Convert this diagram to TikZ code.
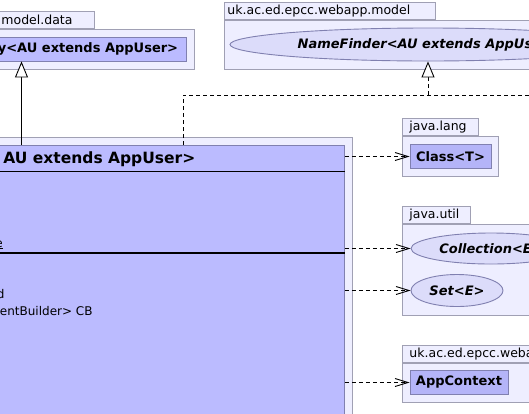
\documentclass[tikz,border=0pt]{standalone}
\usepackage{fontspec}
\setmainfont{DejaVu Sans}
\usetikzlibrary{arrows.meta,calc,shapes.geometric,positioning}
\definecolor{pkgfill}{HTML}{EEEEFF}
\definecolor{pkgline}{HTML}{A0A0B4}
\definecolor{clsfill}{HTML}{B4B4F8}
\definecolor{mainfill}{HTML}{BBBBFF}
\definecolor{clsline}{HTML}{8080B0}
\definecolor{ifcfill}{HTML}{DCDCFA}
\newcommand{\pkgfont}{\fontsize{12.5}{15}\selectfont}
\newcommand{\clsfont}{\bfseries\fontsize{13}{16}\selectfont}
\newcommand{\ifcfont}{\bfseries\itshape\fontsize{13}{16}\selectfont}
\newcommand{\memfont}{\fontsize{12}{15}\selectfont}

\begin{document}
\begin{tikzpicture}[x=1pt, y=-1pt, line width=0.9pt,
  pkgtab/.style={draw=pkgline, fill=pkgfill, anchor=south west, minimum height=17pt, inner ysep=0pt, align=left, font=\pkgfont},
  pkgbody/.style={draw=pkgline, fill=pkgfill, anchor=north west, inner sep=0pt},
  cls/.style={draw=clsline, fill=clsfill, minimum height=23.5pt, inner sep=0pt, font=\clsfont},
  ifc/.style={ellipse, draw=clsline, fill=ifcfill, inner sep=0pt, font=\ifcfont},
  member/.style={inner sep=0pt, font=\memfont},
  dep/.style={dash pattern=on 4pt off 3pt, -{Straight Barb[length=13pt,width=8pt]}},
  real/.style={dash pattern=on 4pt off 3pt},
  hollow/.style={-{Triangle[length=16pt,width=13pt,fill=white]}}]
\useasboundingbox (0,0) rectangle (529,413);
\clip (0,0) rectangle (529,413);
\fill[white] (0,0) rectangle (529,413);

% model.data
\node[pkgtab, inner xsep=6pt, text width=87pt] (datatab) at (-5,29) {model.data};
\node[pkgbody, minimum width=210pt, minimum height=40pt] (datapkg) at (-16,29) {};
\node[cls, fill=mainfill, minimum width=196pt, minimum height=24pt] (dat) at (88,49) {y<AU extends AppUser>};

% webapp.model
\node[pkgtab, inner xsep=3pt, text width=205pt] (modeltab) at (224,20) {uk.ac.ed.epcc.webapp.model};
\node[pkgbody, minimum width=320pt, minimum height=49pt] (modelpkg) at (224,20) {};
\node[ifc, minimum width=396pt, minimum height=33pt] (nf) at (428,44.5) {NameFinder<AU extends AppUser>};

% the big class
\node[pkgbody, minimum width=372pt, minimum height=300pt] (mainpkg) at (-20,137) {};
\node[draw=clsline, fill=mainfill, anchor=north west, minimum width=354pt, minimum height=290pt, inner sep=0pt] (main) at (-10,145) {};
\node[anchor=base west, inner sep=0pt, font=\bfseries\fontsize{15.5}{19}\selectfont] (mainname) at (3,163) {AU extends AppUser>};
\draw ($(main.north west)+(0,26)$) -- ($(main.north east)+(0,26)$);
\draw[line width=2pt] ($(main.north west)+(0,108)$) -- ($(main.north east)+(0,108)$);
\node[member, anchor=base east] (attr) at (3.3,247) {\underline{e}};
\node[member, anchor=base east] (meth) at (5,298) {d};
\node[member, anchor=base east] (methb) at (93,315) {entBuilder> CB};

% java.lang
\node[pkgtab, inner xsep=7pt, text width=62pt] (langtab) at (402,136) {java.lang};
\node[pkgbody, minimum width=96pt, minimum height=40pt] (langpkg) at (402,136) {};
\node[cls, minimum width=81pt] (cls) at (450.5,156.5) {Class<T>};

% java.util
\node[pkgtab, inner xsep=7pt, text width=54pt] (utiltab) at (402,224) {java.util};
\node[pkgbody, minimum width=200pt, minimum height=91pt] (utilpkg) at (402,224) {};
\node[ifc, minimum width=160pt, minimum height=31pt] (coll) at (491,248.5) {Collection<E>};
\node[ifc, minimum width=92pt, minimum height=32pt] (set) at (457,290.5) {Set<E>};

% webapp
\node[pkgtab, inner xsep=7pt, text width=184pt] (apptab) at (402,363) {uk.ac.ed.epcc.webapp};
\node[pkgbody, minimum width=200pt, minimum height=39pt] (apppkg) at (402,363) {};
\node[cls, minimum width=98pt] (ctx) at (459,382.5) {AppContext};

% links
\draw[dep] (main.east |- cls.west) -- (cls.west);
\draw[dep] (main.east |- coll.west) -- (coll.west);
\draw[dep] (main.east |- set.west) -- (set.west);
\draw[dep] (main.east |- ctx.west) -- (ctx.west);
\coordinate (genfoot) at (21.5,145);
\draw[hollow] (genfoot) -- (genfoot |- dat.south);
\coordinate (realbend) at (183,95);
\coordinate (realend) at (540,95);
\draw[real] (main.north -| realbend) |- (realend);
\draw[real,hollow] (realend -| nf.south) -- (nf.south);
\end{tikzpicture}
\end{document}
